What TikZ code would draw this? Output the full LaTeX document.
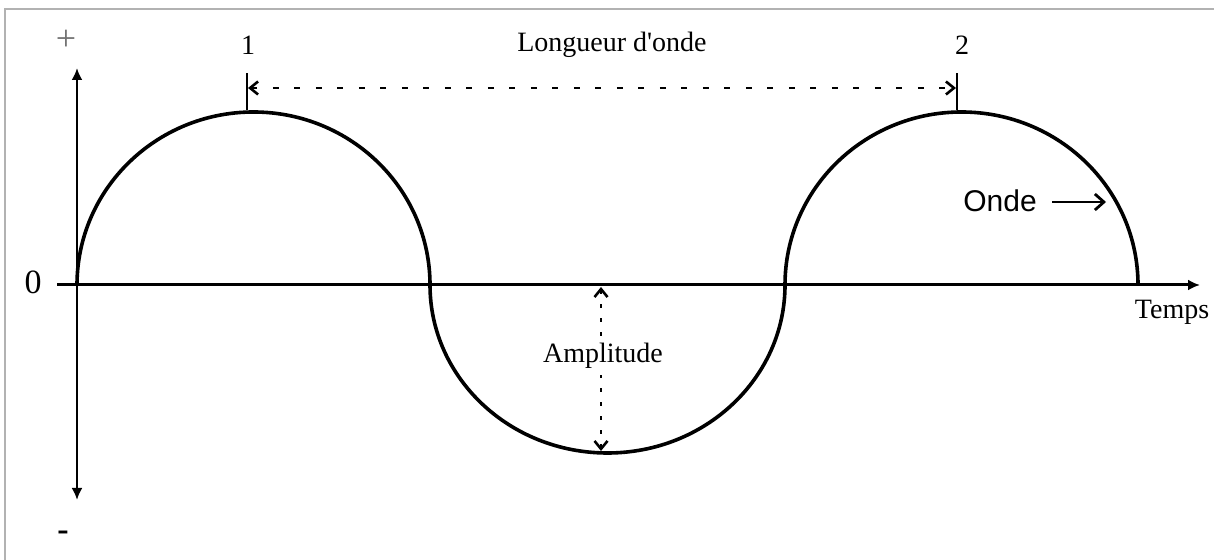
\documentclass[tikz,border=0pt]{standalone}
\usepackage{fontspec}
\setmainfont{Liberation Serif}
\newfontfamily\sansf{Liberation Sans}
\usetikzlibrary{arrows.meta}
\begin{document}
\begin{tikzpicture}[x=1pt,y=1pt,
  lbl/.style={font=\fontsize{28}{30}\selectfont, inner sep=0pt},
  axisline/.style={line width=3pt, -{Latex[length=12pt,width=11pt]}},
  wave/.style={line width=3.6pt},
  tickline/.style={line width=2.6pt},
  barb/.style={{Straight Barb[length=8pt,width=13pt,line width=2.6pt]}-{Straight Barb[length=8pt,width=13pt,line width=2.6pt]}},
]
\useasboundingbox (0,0) rectangle (1214,559);
% frame (only top and left visible)
\draw[line width=2.5pt, gray!60] (5,-10) -- (5,550) -- (1230,550);

% axes
\coordinate (O) at (77,274);
\coordinate (xs) at (57,274);
\coordinate (xe) at (1200,274);
\coordinate (yb) at (77,59);
\coordinate (yt) at (77,491);
\draw[axisline] (xs) -- (xe);
\draw[line width=2.6pt, {Latex[length=12pt,width=11pt]}-{Latex[length=12pt,width=11pt]}] (yb) -- (yt);

% axis labels
\node[font=\fontsize{36}{38}\selectfont, inner sep=0pt, text=black!55] (plus) at (66,519) {+};
\node[font=\fontsize{34}{36}\selectfont\bfseries, inner sep=0pt] (minus) at (63,23) {-};
\node[font=\fontsize{34}{36}\selectfont, inner sep=0pt] (zero) at (33,277) {0};
\node[lbl] (temps) at (1172,247) {Temps};

% wave
\draw[wave] (O) arc[start angle=180, end angle=0, x radius=176.5, y radius=173]
  coordinate (z1)
  arc[start angle=180, end angle=360, x radius=177.5, y radius=168]
  coordinate (z2)
  arc[start angle=180, end angle=0, x radius=176.5, y radius=173]
  coordinate (z3);

% wavelength
\node[lbl] (n1) at (248,514) {1};
\node[lbl] (n2) at (962,514) {2};
\node[lbl] (lo) at (612,514) {Longueur d\textquotesingle onde};
\coordinate (t1b) at (247,449);
\coordinate (t1t) at (247,486);
\coordinate (t2b) at (957,449);
\coordinate (t2t) at (957,486);
\draw[tickline] (t1b) -- (t1t);
\draw[tickline] (t2b) -- (t2t);
\coordinate (d1) at (248,471);
\coordinate (d2) at (956,471);
\draw[line width=2.2pt, dash pattern=on 6pt off 15.5pt, barb] (d1) -- (d2);

% amplitude
\coordinate (a1) at (601,272);
\coordinate (a2) at (601,108);
\draw[line width=2.8pt, dash pattern=on 4pt off 10pt, barb] (a1) -- (a2);
\node[lbl, fill=white, inner ysep=6pt, inner xsep=3pt] (amp) at (603,203) {Amplitude};

% onde
\node[font=\sansf\fontsize{30}{32}\selectfont, inner sep=0pt] (onde) at (1000,358) {Onde};
\coordinate (oa) at (1052,357);
\coordinate (ob) at (1106,357);
\draw[line width=2.8pt, -{Straight Barb[length=9pt,width=16pt,line width=2.8pt]}] (oa) -- (ob);
\end{tikzpicture}
\end{document}
